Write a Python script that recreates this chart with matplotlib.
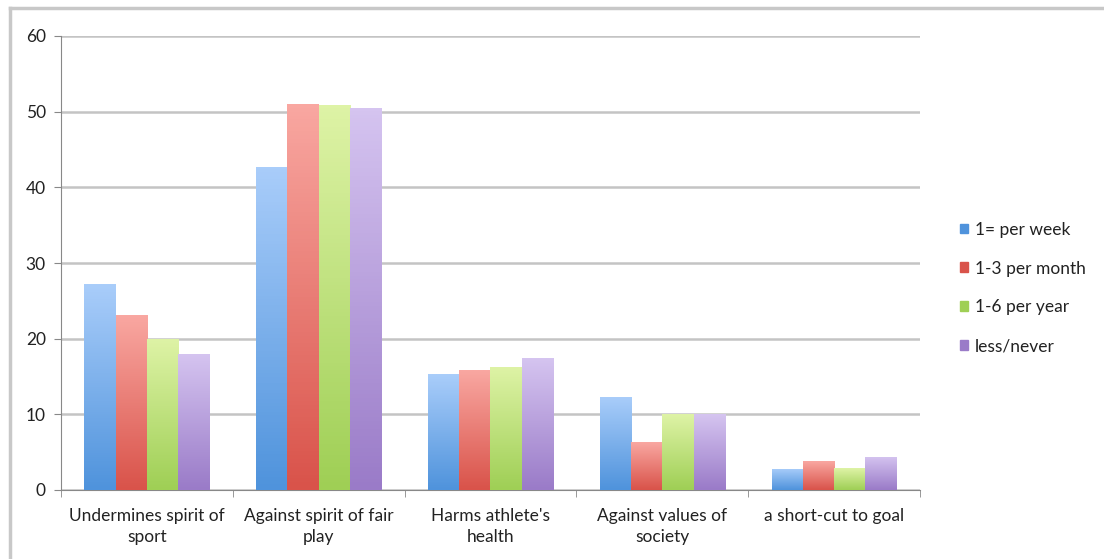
import numpy as np
import matplotlib
matplotlib.use("Agg")
import matplotlib.pyplot as plt
from matplotlib.colors import LinearSegmentedColormap
from matplotlib.lines import Line2D

categories = ["Undermines spirit of\nsport", "Against spirit of fair\nplay",
              "Harms athlete's\nhealth", "Against values of\nsociety",
              "a short-cut to goal"]
series = ["1= per week", "1-3 per month", "1-6 per year", "less/never"]
weekly = [27.2, 42.7, 15.3, 12.3, 2.8]
monthly = [23.1, 51.0, 15.8, 6.3, 3.8]
yearly = [20.0, 50.9, 16.3, 10.0, 2.9]
never = [18.0, 50.5, 17.4, 10.0, 4.4]

# (top colour, bottom colour) for each series
shades = [("#a9cdfa", "#4f93dc"),
          ("#f9a7a1", "#d9534a"),
          ("#def3a6", "#9fcf55"),
          ("#d5c4f0", "#9a7bc8")]

plt.rcParams["font.family"] = ["Lato", "DejaVu Sans"]
fs = 12.5

fig = plt.figure(figsize=(11.04, 5.59), dpi=100)
ax = fig.add_axes([61 / 1104, 1 - 490 / 559, 859 / 1104, 454 / 559])

x = np.arange(len(categories))
width = 0.182
values = [weekly, monthly, yearly, never]
for i, (vals, name, (top, bottom)) in enumerate(zip(values, series, shades)):
    offs = (i - 1.5) * width
    bars = ax.bar(x + offs, vals, width, color=bottom, label=name, zorder=2)
    cmap = LinearSegmentedColormap.from_list(name, [bottom, top])
    for b in bars:
        x0, y0 = b.get_x(), b.get_y()
        w, h = b.get_width(), b.get_height()
        grad = np.linspace(0, 1, 100).reshape(-1, 1)
        im = ax.imshow(grad, cmap=cmap, origin="lower", aspect="auto",
                       extent=(x0, x0 + w, y0, y0 + h), zorder=3)
        im.set_clip_path(b)

ax.set_xlim(-0.5, len(categories) - 0.5)
ax.set_ylim(0, 60)
ax.set_yticks(range(0, 61, 10))
ax.yaxis.grid(True, color="#c4c4c4", linewidth=1.8, zorder=0)
ax.set_axisbelow(True)

ax.set_xticks(x)
ax.set_xticklabels(categories, fontsize=fs, color="#222222", linespacing=1.4)
ax.set_xticks(np.arange(-0.5, len(categories)), minor=True)
ax.tick_params(axis="x", which="major", length=0, pad=13)
ax.tick_params(axis="x", which="minor", length=5, color="#888888")
ax.tick_params(axis="y", length=5, color="#888888", labelsize=fs,
               labelcolor="#222222", pad=6)

for side in ["top", "right"]:
    ax.spines[side].set_visible(False)
ax.spines["left"].set_color("#888888")
ax.spines["bottom"].set_color("#888888")

handles = [plt.Rectangle((0, 0), 1, 1, color=s[1]) for s in shades]
leg = fig.legend(handles, series, loc="center left",
                 bbox_to_anchor=(944 / 1104, 1 - 288 / 559), frameon=False,
                 handlelength=0.5, handleheight=0.5, handletextpad=0.4,
                 labelspacing=1.32, fontsize=fs)
for t in leg.get_texts():
    t.set_color("#222222")

# outer frame of the chart area
fig.add_artist(Line2D([10 / 1104, 10 / 1104], [0, 1 - 8 / 559],
                      color="#c8c8c8", linewidth=2.5))
fig.add_artist(Line2D([10 / 1104, 1], [1 - 8 / 559, 1 - 8 / 559],
                      color="#c8c8c8", linewidth=2.5))

fig.savefig("out.png", dpi=100)
